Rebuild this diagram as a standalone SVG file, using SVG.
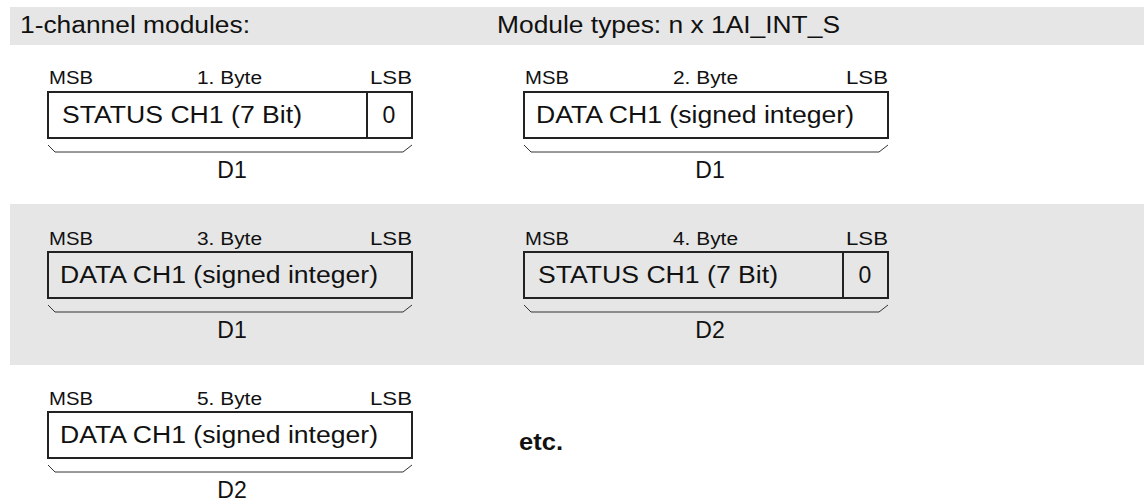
<svg xmlns="http://www.w3.org/2000/svg" width="1144" height="501" viewBox="0 0 1144 501">
<style>
text{font-family:"Liberation Sans",Arial,sans-serif;fill:#111}
.hdr{font-size:23px}
.sm{font-size:18px}
.big{font-size:23px}
.box{fill:none;stroke:#222;stroke-width:2}
.div{stroke:#222;stroke-width:2}
.brace{fill:none;stroke:#333;stroke-width:1}
.band{fill:#e6e6e6}
.etc{font-size:23px;font-weight:bold}
</style>
<rect class="band" x="10" y="7" width="1134" height="38"/>
<rect class="band" x="10" y="204" width="1134" height="161"/>
<text class="hdr" x="20" y="33" textLength="230" lengthAdjust="spacingAndGlyphs">1-channel modules:</text>
<text class="hdr" x="497" y="33" textLength="343" lengthAdjust="spacingAndGlyphs">Module types: n x 1AI_INT_S</text>

<g id="byte1">
<text class="sm" x="49" y="84" textLength="44" lengthAdjust="spacingAndGlyphs">MSB</text>
<text class="sm" x="197" y="84" textLength="65" lengthAdjust="spacingAndGlyphs">1. Byte</text>
<text class="sm" x="370" y="84" textLength="42" lengthAdjust="spacingAndGlyphs">LSB</text>
<rect class="box" x="48" y="92" width="364" height="46"/>
<line class="div" x1="367" y1="92" x2="367" y2="138"/>
<text class="big" x="62" y="123" textLength="240" lengthAdjust="spacingAndGlyphs">STATUS CH1 (7 Bit)</text>
<text class="big" x="389" y="123" text-anchor="middle">0</text>
<path class="brace" d="M48,145 L55,152 L403,152 L412,145"/>
<text class="big" x="232" y="178" text-anchor="middle">D1</text>
</g>

<g id="byte2">
<text class="sm" x="525" y="84" textLength="44" lengthAdjust="spacingAndGlyphs">MSB</text>
<text class="sm" x="673" y="84" textLength="65" lengthAdjust="spacingAndGlyphs">2. Byte</text>
<text class="sm" x="846" y="84" textLength="42" lengthAdjust="spacingAndGlyphs">LSB</text>
<rect class="box" x="524" y="92" width="364" height="46"/>
<text class="big" x="536" y="123" textLength="318" lengthAdjust="spacingAndGlyphs">DATA CH1 (signed integer)</text>
<path class="brace" d="M524,145 L531,152 L879,152 L888,145"/>
<text class="big" x="710" y="178" text-anchor="middle">D1</text>
</g>

<g id="byte3">
<text class="sm" x="49" y="245" textLength="44" lengthAdjust="spacingAndGlyphs">MSB</text>
<text class="sm" x="197" y="245" textLength="65" lengthAdjust="spacingAndGlyphs">3. Byte</text>
<text class="sm" x="370" y="245" textLength="42" lengthAdjust="spacingAndGlyphs">LSB</text>
<rect class="box" x="48" y="252" width="364" height="46"/>
<text class="big" x="60" y="283" textLength="318" lengthAdjust="spacingAndGlyphs">DATA CH1 (signed integer)</text>
<path class="brace" d="M48,305 L55,312 L403,312 L412,305"/>
<text class="big" x="232" y="338" text-anchor="middle">D1</text>
</g>

<g id="byte4">
<text class="sm" x="525" y="245" textLength="44" lengthAdjust="spacingAndGlyphs">MSB</text>
<text class="sm" x="673" y="245" textLength="65" lengthAdjust="spacingAndGlyphs">4. Byte</text>
<text class="sm" x="846" y="245" textLength="42" lengthAdjust="spacingAndGlyphs">LSB</text>
<rect class="box" x="524" y="252" width="364" height="46"/>
<line class="div" x1="843" y1="252" x2="843" y2="298"/>
<text class="big" x="538" y="283" textLength="240" lengthAdjust="spacingAndGlyphs">STATUS CH1 (7 Bit)</text>
<text class="big" x="865" y="283" text-anchor="middle">0</text>
<path class="brace" d="M524,305 L531,312 L879,312 L888,305"/>
<text class="big" x="710" y="338" text-anchor="middle">D2</text>
</g>

<g id="byte5">
<text class="sm" x="49" y="405" textLength="44" lengthAdjust="spacingAndGlyphs">MSB</text>
<text class="sm" x="197" y="405" textLength="65" lengthAdjust="spacingAndGlyphs">5. Byte</text>
<text class="sm" x="370" y="405" textLength="42" lengthAdjust="spacingAndGlyphs">LSB</text>
<rect class="box" x="48" y="412" width="364" height="46"/>
<text class="big" x="60" y="443" textLength="318" lengthAdjust="spacingAndGlyphs">DATA CH1 (signed integer)</text>
<path class="brace" d="M48,465 L55,472 L403,472 L412,465"/>
<text class="big" x="232" y="498" text-anchor="middle">D2</text>
</g>

<g id="etc">
<text class="etc" x="519" y="450" textLength="44" lengthAdjust="spacingAndGlyphs">etc.</text>
</g>
<g id="connectors"/>
</svg>
